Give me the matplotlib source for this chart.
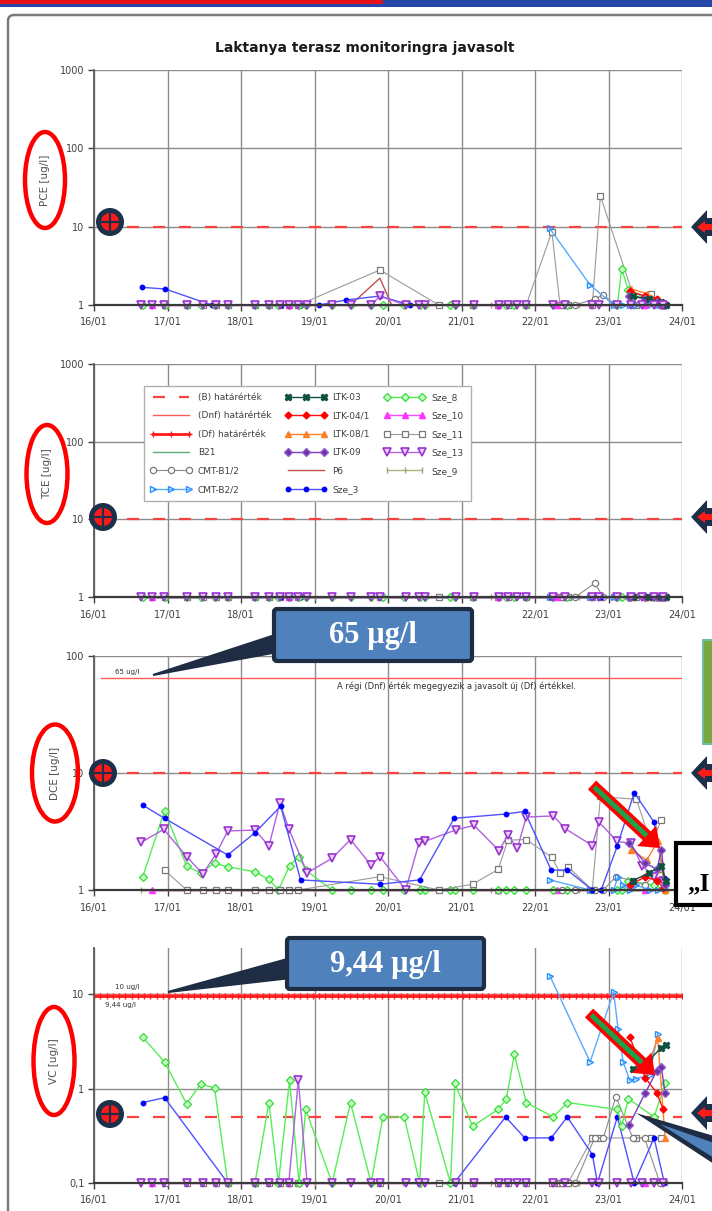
import numpy as np
import matplotlib
matplotlib.use('Agg')
import matplotlib.pyplot as plt
from matplotlib.lines import Line2D
from matplotlib.ticker import NullLocator
from matplotlib.patches import Ellipse, Circle, Polygon, FancyBboxPatch, Rectangle

# ---------------- data (x = year, 16 -> 2016/01) ----------------
x_ticks = [16, 17, 18, 19, 20, 21, 22, 23, 24]
x_labels = ['16/01', '17/01', '18/01', '19/01', '20/01', '21/01', '22/01', '23/01', '24/01']

# Sze_13
s13_x = [16.64, 16.79, 16.95, 17.26, 17.48, 17.66, 17.82, 18.19, 18.38, 18.53, 18.65, 18.78, 18.90,
         19.24, 19.49, 19.77, 19.89, 20.24, 20.42, 20.50, 20.92, 21.17, 21.51, 21.63, 21.76, 21.88,
         22.25, 22.41, 22.78, 22.87, 23.12, 23.31, 23.46, 23.62, 23.74]
pce_s13 = [1, 1, 1, 1, 1, 1, 1, 1, 1, 1, 1, 1, 1, 1, 1, 1, 1.3, 1, 1, 1, 1, 1, 1, 1, 1, 1, 1, 1,
           1, 1, 1, 1, 1, 1, 1]
tce_s13 = [1, 1, 1, 1, 1, 1, 1, 1, 1, 1, 1, 1, 1, 1, 1, 1, 1, 1, 1, 1, 1, 1, 1, 1, 1, 1, 1, 1,
           1, 1, 1, 1, 1, 1, 1]
vc_s13 = [0.1, 0.1, 0.1, 0.1, 0.1, 0.1, 0.1, 0.1, 0.1, 0.1, 0.1, 1.22, 0.1, 0.1, 0.1, 0.1, 0.1,
          0.1, 0.1, 0.1, 0.1, 0.1, 0.1, 0.1, 0.1, 0.1, 0.1, 0.1, 0.1, 0.1, 0.1, 0.1, 0.1, 0.1, 0.1]
dce_s13_x = [16.64, 16.95, 17.26, 17.48, 17.66, 17.82, 18.19, 18.38, 18.53, 18.65, 18.90, 19.24,
             19.49, 19.77, 19.89, 20.24, 20.42, 20.50, 20.92, 21.17, 21.51, 21.63, 21.76, 21.88,
             22.25, 22.41, 22.78, 22.87, 23.12, 23.31, 23.46, 23.62, 23.74]
dce_s13 = [2.55, 3.3, 1.93, 1.37, 2.03, 3.2, 3.25, 2.38, 5.57, 3.35, 1.4, 1.87, 2.7, 1.63, 1.93,
           1.0, 2.5, 2.6, 3.26, 3.57, 2.17, 2.95, 2.27, 4.2, 4.3, 3.35, 2.4, 3.8, 2.6, 2.5, 1.6,
           1.3, 1.2]

# Sze_3
pce_s3_x = [16.65, 16.97, 17.6, 17.82, 18.19, 18.54, 18.81, 19.06, 19.43, 19.89, 20.3, 20.43]
pce_s3 = [1.68, 1.6, 1.0, 1.0, 1.0, 1.0, 1.0, 1.0, 1.16, 1.3, 1.0, 1.0]
dce_s3_x = [16.66, 16.96, 17.82, 18.19, 18.54, 18.81, 19.89, 20.43, 20.9, 21.6, 21.86, 22.22,
            22.44, 22.78, 22.9, 23.12, 23.35, 23.62, 23.76]
dce_s3 = [5.33, 4.1, 1.99, 3.09, 5.2, 1.22, 1.12, 1.22, 4.1, 4.46, 4.7, 1.48, 1.48, 1.0, 1.0,
          2.38, 6.8, 3.8, 1.26]
tce_s3 = [1, 1, 1, 1, 1, 1, 1, 1, 1, 1, 1, 1, 1, 1, 1, 1, 1, 1, 1]
vc_s3_x = [16.66, 16.96, 17.82, 20.9, 21.6, 21.86, 22.22, 22.44, 22.78, 22.85, 23.12, 23.35,
           23.62, 23.76]
vc_s3 = [0.71, 0.8, 0.1, 0.1, 0.5, 0.3, 0.3, 0.5, 0.2, 0.1, 0.5, 0.1, 0.3, 0.1]

# Sze_8
s8_x = [16.66, 16.96, 17.26, 17.45, 17.64, 17.82, 18.19, 18.38, 18.51, 18.66, 18.79, 18.88,
        19.24, 19.49, 19.77, 19.93, 20.22, 20.43, 20.5, 20.85, 20.91, 21.15, 21.5, 21.61, 21.72,
        21.88, 22.25, 22.44, 23.12, 23.18, 23.27, 23.62, 23.77]
pce_s8 = [1, 1, 1, 1, 1, 1, 1, 1, 1, 1, 1, 1, 1, 1, 1, 1, 1, 1, 1, 1, 1, 1, 1, 1, 1, 1, 1, 1, 1,
          2.9, 1.55, 1.1, 1.0]
tce_s8 = [1, 1, 1, 1, 1, 1, 1, 1, 1, 1, 1, 1, 1, 1, 1, 1, 1, 1, 1, 1, 1, 1, 1, 1, 1, 1, 1, 1, 1,
          1, 1, 1, 1]
dce_s8 = [1.28, 4.76, 1.6, 1.4, 1.69, 1.58, 1.43, 1.23, 1.0, 1.61, 1.93, 1.48, 1, 1, 1, 1, 1, 1,
          1, 1, 1, 1, 1, 1, 1, 1, 1, 1, 1, 1, 1.2, 1.1, 1.0]
vc_s8 = [3.51, 1.91, 0.69, 1.11, 1.02, 0.1, 0.1, 0.71, 0.1, 1.22, 0.1, 0.6, 0.1, 0.71, 0.1, 0.5,
         0.5, 0.1, 0.91, 0.1, 1.13, 0.4, 0.6, 0.78, 2.3, 0.71, 0.5, 0.71, 0.6, 0.4, 0.78, 0.5, 1.13]

# Sze_11
s11_x = [16.96, 17.26, 17.48, 17.66, 17.82, 18.19, 18.38, 18.53, 18.65, 18.78, 19.89, 20.69,
         21.15, 21.5, 21.63, 21.88, 22.23, 22.34, 22.45, 22.78, 22.89, 23.38, 23.58, 23.72]
pce_s11 = [1, 1, 1, 1, 1, 1, 1, 1, 1, 1, 2.8, 1, 1, 1, 1, 1, 8.6, 1, 1, 1, 24.7, 1, 1.4, 1]
tce_s11 = [1, 1, 1, 1, 1, 1, 1, 1, 1, 1, 1, 1, 1, 1, 1, 1, 1, 1, 1, 1, 1, 1, 1, 1]
dce_s11 = [1.48, 1, 1, 1, 1, 1, 1, 1, 1, 1, 1.3, 1, 1.12, 1.5, 2.67, 2.7, 1.9, 1.4, 1.58, 1.0,
           6.3, 5.95, 2.5, 3.96]
vc_s11 = [0.1, 0.1, 0.1, 0.1, 0.1, 0.1, 0.1, 0.1, 0.1, 0.1, 0.1, 0.1, 0.1, 0.1, 0.1, 0.1, 0.1,
          0.1, 0.1, 0.3, 0.3, 0.3, 0.3, 0.3]

# CMT-B1/2
b1_x = [22.37, 22.55, 22.81, 22.93, 23.1, 23.33, 23.49, 23.7]
pce_b1 = [1, 1, 1.2, 1.34, 1, 1, 1, 1]
tce_b1 = [1, 1, 1.5, 1, 1, 1, 1, 1]
dce_b1 = [1, 1, 1, 1, 1.3, 1.2, 1.1, 1.5]
vc_b1 = [0.1, 0.1, 0.3, 0.3, 0.82, 0.3, 0.3, 0.1]

# CMT-B2/2
b2_x = [22.2, 22.75, 23.07, 23.13, 23.2, 23.29, 23.38, 23.56, 23.67]
pce_b2 = [9.5, 1.8, 1.0, 1.0, 1.0, 1.0, 1.0, 1.0, 1.0]
tce_b2 = [1, 1, 1, 1, 1, 1, 1, 1, 1]
dce_b2 = [1.22, 1.0, 1.0, 1.3, 1.1, 1.0, 1.1, 1.0, 1.0]
vc_b2 = [15.7, 1.91, 10.5, 4.3, 1.9, 1.22, 1.27, 1.4, 3.8]

# LTK wells
ltk03_x = [23.33, 23.55, 23.72, 23.78]
pce_ltk03 = [1.3, 1.2, 1.1, 1.0]
tce_ltk03 = [1, 1, 1, 1]
dce_ltk03 = [1.2, 1.4, 1.6, 1.2]
vc_ltk03 = [1.6, 2.0, 2.7, 2.9]
ltk04_x = [23.29, 23.5, 23.66, 23.74]
pce_ltk04 = [1.5, 1.3, 1.2, 1.0]
tce_ltk04 = [1, 1, 1, 1]
dce_ltk04 = [1.1, 1.3, 1.2, 1.05]
vc_ltk04 = [3.5, 1.3, 0.89, 0.61]
ltk08_x = [23.31, 23.52, 23.67, 23.77]
pce_ltk08 = [1.6, 1.4, 1.2, 1.0]
tce_ltk08 = [1, 1, 1, 1]
dce_ltk08 = [2.2, 1.8, 2.6, 1.0]
vc_ltk08 = [2.4, 1.6, 3.4, 0.3]
ltk09_x = [23.28, 23.5, 23.66, 23.72, 23.77]
pce_ltk09 = [1.3, 1.2, 1.1, 1.0, 1.0]
tce_ltk09 = [1, 1, 1, 1, 1]
dce_ltk09 = [2.5, 1.7, 1.5, 2.2, 1.1]
vc_ltk09 = [0.41, 0.9, 1.55, 1.67, 0.89]

# Sze_10, Sze_9, P6, B21
s10_x = [16.79, 18.65, 21.5, 22.3, 23.5]
s10_low = [1, 1, 1, 1, 1]
vc_s10 = [0.1, 0.1, 0.1, 0.1, 0.1]
s9_x = [16.64, 17.82, 19.0, 20.2, 21.4, 22.6, 23.8]
s9_low = [1, 1, 1, 1, 1, 1, 1]
vc_s9 = [0.1, 0.1, 0.1, 0.1, 0.1, 0.1, 0.1]
pce_p6_x = [19.49, 19.89, 20.05]
pce_p6 = [1, 2.2, 1]
p6_x = [16.64, 23.8]
p6_low = [1, 1]
b21_x = [23.3, 23.8]
b21_low = [1, 1]
vc_b21 = [0.1, 0.1]

# limit values
lim_B = {'PCE': 10, 'TCE': 10, 'DCE': 10, 'VC': 0.5}
lim_Dnf_dce = 65
lim_Dnf_vc = 10
lim_Df_vc = 9.44
lim_x = [16.1, 24.0]

# ---------------- styles ----------------
STY = {
    'B21': dict(color='#5aae7a', lw=1.0),
    'CMT-B1/2': dict(color='#8c8c8c', lw=0.8, marker='o', ms=4.5, mfc='white', mec='#7a7a7a', mew=0.9),
    'CMT-B2/2': dict(color='#59aaff', lw=1.0, marker='>', ms=5, mfc='none', mec='#2a90ff', mew=1.0),
    'LTK-03': dict(color='#0f5040', lw=1.0, marker='X', ms=5, mfc='#0f5040', mec='#0f5040'),
    'LTK-04/1': dict(color='#ff1010', lw=1.0, marker='D', ms=3.5, mfc='#ff0000', mec='#ff0000'),
    'LTK-08/1': dict(color='#ff7f27', lw=1.0, marker='^', ms=4.5, mfc='#ff7f27', mec='#ff7f27'),
    'LTK-09': dict(color='#7a3cc0', lw=1.0, marker='D', ms=3.8, mfc='#7030a0', mec='#9060d0'),
    'P6': dict(color='#c0504d', lw=1.0),
    'Sze_3': dict(color='#5050ff', lw=1.0, marker='o', ms=3.2, mfc='#0000ff', mec='#0000ff'),
    'Sze_8': dict(color='#55ee55', lw=1.0, marker='D', ms=3.6, mfc='#c8ffc8', mec='#33dd33', mew=0.9),
    'Sze_10': dict(color='#ff44ff', lw=1.0, marker='^', ms=4.5, mfc='#ff33ff', mec='#ff33ff'),
    'Sze_11': dict(color='#9a9a9a', lw=0.8, marker='s', ms=4.5, mfc='white', mec='#7a7a7a', mew=0.9),
    'Sze_13': dict(color='#b060e0', lw=1.0, marker='v', ms=5.5, mfc='#e8d0ff', mec='#9933cc', mew=1.2),
    'Sze_9': dict(color='#b0b080', lw=1.0, marker='|', ms=5, mec='#a0a070'),
}
LIM_B = dict(color='#ff4040', lw=1.6, ls=(0, (5.4, 6.3)))
LIM_DNF = dict(color='#ff5a5a', lw=1.0)
LIM_DF = dict(color='#ff1a1a', lw=2.0, marker='+', ms=4, mew=1.0)

W, H = 712, 1211
fig = plt.figure(figsize=(W / 100, H / 100), dpi=100)
fig.patch.set_facecolor('white')


def rect(top, bottom, left=94, right=682):
    return [left / W, 1 - bottom / H, (right - left) / W, (bottom - top) / H]


def style_axes(ax, ylim, yticks, ylabels):
    ax.set_yscale('log')
    ax.set_xlim(16, 24)
    ax.set_ylim(*ylim)
    ax.set_xticks(x_ticks)
    ax.set_xticklabels(x_labels)
    ax.set_yticks(yticks)
    ax.set_yticklabels(ylabels)
    ax.yaxis.set_minor_locator(NullLocator())
    ax.grid(True, color='#8c8c8c', lw=1.0)
    ax.set_axisbelow(True)
    for s in ['top', 'right']:
        ax.spines[s].set_visible(False)
    ax.spines['left'].set_color('#5a5a5a')
    ax.spines['left'].set_linewidth(1.3)
    ax.spines['bottom'].set_color('#3a3a3a')
    ax.spines['bottom'].set_linewidth(1.6)
    ax.tick_params(axis='both', labelsize=7, colors='#404040', length=4, width=1)
    ax.tick_params(axis='x', pad=5)
    ax.tick_params(axis='y', pad=3)
    ax.patch.set_alpha(0)


def plot_series(ax, series):
    for name, x, y in series:
        ax.plot(x, y, clip_on=False, label=name, **STY[name])


# PCE
ax1 = fig.add_axes(rect(70, 305))
style_axes(ax1, (1, 1000), [1, 10, 100, 1000], ['1', '10', '100', '1000'])
ax1.plot(lim_x, [lim_B['PCE']] * 2, **LIM_B)
plot_series(ax1, [
    ('Sze_9', s9_x, s9_low), ('P6', pce_p6_x, pce_p6), ('B21', b21_x, b21_low),
    ('Sze_11', s11_x, pce_s11), ('CMT-B1/2', b1_x, pce_b1), ('CMT-B2/2', b2_x, pce_b2),
    ('Sze_3', pce_s3_x, pce_s3), ('Sze_8', s8_x, pce_s8), ('Sze_10', s10_x, s10_low),
    ('LTK-08/1', ltk08_x, pce_ltk08), ('LTK-04/1', ltk04_x, pce_ltk04),
    ('LTK-09', ltk09_x, pce_ltk09), ('LTK-03', ltk03_x, pce_ltk03),
    ('Sze_13', s13_x, pce_s13)])

# TCE
ax2 = fig.add_axes(rect(364, 597))
style_axes(ax2, (1, 1000), [1, 10, 100, 1000], ['1', '10', '100', '1000'])
ax2.plot(lim_x, [lim_B['TCE']] * 2, **LIM_B)
plot_series(ax2, [
    ('Sze_9', s9_x, s9_low), ('P6', p6_x, p6_low), ('B21', b21_x, b21_low),
    ('Sze_11', s11_x, tce_s11), ('CMT-B1/2', b1_x, tce_b1), ('CMT-B2/2', b2_x, tce_b2),
    ('Sze_3', dce_s3_x, tce_s3), ('Sze_8', s8_x, tce_s8), ('Sze_10', s10_x, s10_low),
    ('LTK-08/1', ltk08_x, tce_ltk08), ('LTK-04/1', ltk04_x, tce_ltk04),
    ('LTK-09', ltk09_x, tce_ltk09), ('LTK-03', ltk03_x, tce_ltk03),
    ('Sze_13', s13_x, tce_s13)])

# DCE
ax3 = fig.add_axes(rect(656, 890))
style_axes(ax3, (1, 100), [1, 10, 100], ['1', '10', '100'])
ax3.plot(lim_x, [lim_B['DCE']] * 2, **LIM_B)
ax3.plot(lim_x, [lim_Dnf_dce] * 2, **LIM_DNF)
plot_series(ax3, [
    ('Sze_9', s9_x, s9_low), ('P6', p6_x, p6_low), ('B21', b21_x, b21_low),
    ('Sze_10', s10_x, s10_low), ('Sze_8', s8_x, dce_s8),
    ('Sze_11', s11_x, dce_s11), ('CMT-B1/2', b1_x, dce_b1), ('CMT-B2/2', b2_x, dce_b2),
    ('Sze_13', dce_s13_x, dce_s13), ('Sze_3', dce_s3_x, dce_s3),
    ('LTK-08/1', ltk08_x, dce_ltk08), ('LTK-04/1', ltk04_x, dce_ltk04),
    ('LTK-09', ltk09_x, dce_ltk09), ('LTK-03', ltk03_x, dce_ltk03)])

# VC
ax4 = fig.add_axes(rect(948, 1183))
style_axes(ax4, (0.1, 30.7), [0.1, 1, 10], ['0,1', '1', '10'])
ax4.plot(lim_x, [lim_B['VC']] * 2, **LIM_B)
ax4.plot([16.0, 24.0], [lim_Dnf_vc] * 2, **LIM_DNF)
df_x = np.linspace(16.0, 24.0, 95)
ax4.plot(df_x, [lim_Df_vc] * len(df_x), **LIM_DF)
plot_series(ax4, [
    ('Sze_9', s9_x, vc_s9), ('B21', b21_x, vc_b21), ('Sze_10', s10_x, vc_s10),
    ('Sze_11', s11_x, vc_s11), ('CMT-B1/2', b1_x, vc_b1), ('Sze_3', vc_s3_x, vc_s3),
    ('Sze_8', s8_x, vc_s8), ('CMT-B2/2', b2_x, vc_b2),
    ('LTK-08/1', ltk08_x, vc_ltk08), ('LTK-04/1', ltk04_x, vc_ltk04),
    ('LTK-03', ltk03_x, vc_ltk03), ('LTK-09', ltk09_x, vc_ltk09),
    ('Sze_13', s13_x, vc_s13)])

# legend (in TCE panel)
leg_names = ['B21', 'CMT-B1/2', 'CMT-B2/2', 'LTK-03', 'LTK-04/1', 'LTK-08/1', 'LTK-09', 'P6',
             'Sze_3', 'Sze_8', 'Sze_10', 'Sze_11', 'Sze_13', 'Sze_9']
handles = [Line2D([], [], **LIM_B), Line2D([], [], **LIM_DNF), Line2D([], [], **LIM_DF)]
labels = ['(B) határérték', '(Dnf) határérték', '(Df) határérték']
for n in leg_names:
    handles.append(Line2D([], [], **STY[n]))
    labels.append(n)
leg = ax2.legend(handles, labels, ncol=3, loc='upper left',
                 bbox_to_anchor=(139 / W, 1 - 381 / H), bbox_transform=fig.transFigure,
                 fontsize=6.5, numpoints=3, handlelength=4.5, handletextpad=0.7,
                 columnspacing=1.6, labelspacing=1.05, borderpad=0.8,
                 fancybox=False, framealpha=1, edgecolor='#b0b0b0')
for t in leg.get_texts():
    t.set_color('#404040')
leg.get_frame().set_linewidth(1.0)

# ---------------- overlay (pixel coordinates) ----------------
ov = fig.add_axes([0, 0, 1, 1], zorder=10)
ov.set_xlim(0, W)
ov.set_ylim(H, 0)
ov.axis('off')
ov.patch.set_alpha(0)

# top bar
ov.add_patch(Rectangle((0, 0), W, 7, facecolor='#2547a8', edgecolor='none'))
ov.add_patch(Rectangle((0, 0), 383, 4, facecolor='#e8101a', edgecolor='none'))
# outer frame
ov.add_patch(FancyBboxPatch((8, 15), 740, 1230, boxstyle='round,pad=0,rounding_size=6',
                            facecolor='none', edgecolor='#7a7a7a', lw=1.8))

ov.text(365, 48, 'Laktanya terasz monitoringra javasolt', ha='center', va='center',
        fontsize=10, fontweight='bold', color='#1a1a1a')

# y labels + red ellipses
for (cx, cy, w, h, txt) in [(45, 180, 40, 96, 'PCE [ug/l]'), (47, 474, 41, 98, 'TCE [ug/l]'),
                            (55, 773, 46, 97, 'DCE [ug/l]'), (54, 1061, 41, 108, 'VC [ug/l]')]:
    ov.text(cx, cy, txt, rotation=90, ha='center', va='center', fontsize=7.5, color='#505050')
    ov.add_patch(Ellipse((cx, cy), w, h, facecolor='none', edgecolor='#ff0000', lw=3.2))

# navy circles with red cross
for (cx, cy) in [(110, 222), (103, 517), (103, 773), (110, 1114)]:
    ov.add_patch(Circle((cx, cy), 14, facecolor='#1c3049', edgecolor='none'))
    ov.add_patch(Circle((cx, cy), 9, facecolor='#ff1a1a', edgecolor='none'))
    ov.plot([cx - 9, cx + 9], [cy, cy], color='#1c3049', lw=1.6)
    ov.plot([cx, cx], [cy - 9, cy + 9], color='#1c3049', lw=1.6)

# right-edge arrows
for cy in [227, 517, 773, 1113]:
    ov.add_patch(Polygon([(691, cy), (707, cy - 17), (707, cy - 9), (714, cy - 9), (714, cy + 9),
                          (707, cy + 9), (707, cy + 17)], closed=True, facecolor='#1c3049',
                         edgecolor='none'))
    ov.add_patch(Polygon([(697, cy), (705, cy - 6), (705, cy - 3), (714, cy - 3), (714, cy + 3),
                          (705, cy + 3), (705, cy + 6)], closed=True, facecolor='#ff1a1a',
                         edgecolor='none'))

# DCE texts
ov.text(115, 672, '65 ug/l', fontsize=5, color='#303030', va='center')
ov.text(457, 686, 'A régi (Dnf) érték megegyezik a javasolt új (Df) értékkel.', fontsize=6,
        color='#303030', ha='center', va='center')
# VC texts
ov.text(115, 987, '10 ug/l', fontsize=5, color='#303030', va='center')
ov.text(105, 1005, '9,44 ug/l', fontsize=5, color='#303030', va='center')


def callout(box, tip, base, text):
    x0, y0, x1, y1 = box
    ov.add_patch(Polygon([base[0], tip, base[1]], closed=True, facecolor='#1f2d44',
                         edgecolor='#1f2d44', lw=1.5, zorder=3))
    ov.add_patch(FancyBboxPatch((x0, y0), x1 - x0, y1 - y0, boxstyle='round,pad=0,rounding_size=3',
                                facecolor='#4f81bd', edgecolor='#1f2d44', lw=3, zorder=4))
    ov.text((x0 + x1) / 2, (y0 + y1) / 2 + 1, text, ha='center', va='center', fontsize=22,
            fontweight='bold', color='white', family='Liberation Serif', zorder=5)


callout((274, 609, 472, 661), (153, 675), [(278, 634), (278, 652)], '65 µg/l')
callout((287, 938, 484, 989), (168, 992), [(291, 958), (291, 978)], '9,44 µg/l')


def red_green_arrow(start, end, shaft=6.0, head=14.0, head_len=18.0, inner=2.5):
    s = np.array(start, float)
    e = np.array(end, float)
    d = (e - s) / np.linalg.norm(e - s)
    n = np.array([-d[1], d[0]])
    hb = e - d * head_len
    pts = [s + n * shaft, hb + n * shaft, hb + n * head, e, hb - n * head, hb - n * shaft,
           s - n * shaft]
    ov.add_patch(Polygon(pts, closed=True, facecolor='#ff0000', edgecolor='none', zorder=6))
    s2 = s + d * 3
    pts2 = [s2 + n * inner, hb + n * inner, hb - n * inner, s2 - n * inner]
    ov.add_patch(Polygon(pts2, closed=True, facecolor='#1fa04a', edgecolor='none', zorder=7))


red_green_arrow((592, 785), (660, 848))
red_green_arrow((589, 1013), (655, 1075))

# green rectangle at the right
ov.add_patch(Rectangle((703, 640), 14, 104, facecolor='#77a843', edgecolor='#6cbf9a', lw=1.5))

# black text box at the right edge
ov.add_patch(Rectangle((676, 843), 50, 62, facecolor='white', edgecolor='black', lw=3, zorder=6))
ov.text(687, 884, '„I', fontsize=18, fontweight='bold', family='Liberation Serif',
        color='black', va='center', ha='left', zorder=7)

# navy pointer at bottom right
ov.add_patch(Polygon([(636, 1113), (714, 1136), (714, 1164)], closed=True,
                     facecolor='#1f2d44', edgecolor='none', zorder=6))
ov.add_patch(Polygon([(660, 1124), (714, 1143), (714, 1158)], closed=True,
                     facecolor='#4f81bd', edgecolor='none', zorder=7))

fig.savefig('out.png', dpi=100, facecolor='white')
